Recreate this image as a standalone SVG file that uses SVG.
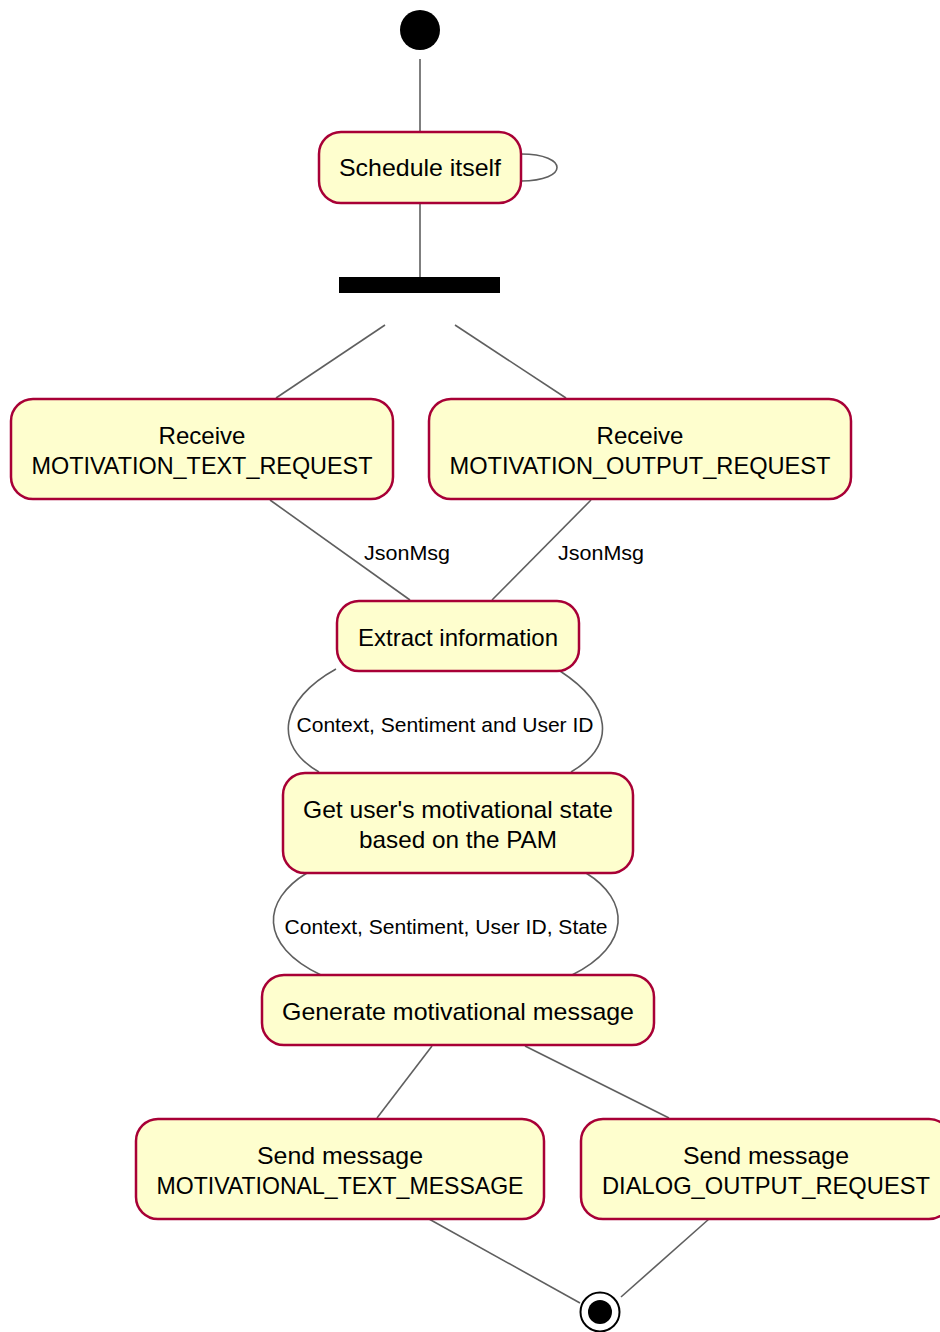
<svg xmlns="http://www.w3.org/2000/svg" width="940" height="1332" viewBox="0 0 940 1332">
  <style>
    .act { fill: #FEFECE; stroke: #A80036; stroke-width: 2.5; }
    .lbl { font-family: "Liberation Sans", Arial, sans-serif; font-size: 24px; fill: #000; text-anchor: middle; }
    .elbl { font-family: "Liberation Sans", Arial, sans-serif; font-size: 21px; fill: #000; text-anchor: middle; }
    .edge { fill: none; stroke: #5f5f5f; stroke-width: 1.6; }
  </style>
  <rect width="940" height="1332" fill="#FFFFFF"/>

  <g id="connectors">
    <line class="edge" x1="420" y1="59" x2="420" y2="132"/>
    <path class="edge" d="M521,154 C569,154 569,181 521,181"/>
    <line class="edge" x1="420" y1="203" x2="420" y2="277"/>
    <line class="edge" x1="385" y1="325" x2="276" y2="398"/>
    <line class="edge" x1="455" y1="325" x2="566" y2="398"/>
    <line class="edge" x1="270" y1="500" x2="410" y2="600"/>
    <text class="elbl" x="407" y="560" textLength="86" lengthAdjust="spacingAndGlyphs">JsonMsg</text>
    <line class="edge" x1="591" y1="500" x2="492" y2="600"/>
    <text class="elbl" x="601" y="560" textLength="86" lengthAdjust="spacingAndGlyphs">JsonMsg</text>
    <path class="edge" d="M336,669 C280,700 272,745 319,772"/>
    <path class="edge" d="M560,671 C612,705 617,745 571,772"/>
    <text class="elbl" x="445" y="732" textLength="297" lengthAdjust="spacingAndGlyphs">Context, Sentiment and User ID</text>
    <path class="edge" d="M307,873 C262,900 258,945 321,975"/>
    <path class="edge" d="M586,873 C630,900 632,945 572,975"/>
    <text class="elbl" x="446" y="934" textLength="323" lengthAdjust="spacingAndGlyphs">Context, Sentiment, User ID, State</text>
    <line class="edge" x1="432" y1="1046" x2="377" y2="1118"/>
    <line class="edge" x1="525" y1="1046" x2="669" y2="1118"/>
    <line class="edge" x1="429" y1="1219" x2="580" y2="1303"/>
    <line class="edge" x1="709" y1="1219" x2="621" y2="1297"/>
  </g>

  <g id="start">
    <circle cx="420" cy="30" r="20" fill="#000"/>
  </g>

  <g id="schedule">
    <rect class="act" x="319" y="132" width="202" height="71" rx="22"/>
    <text class="lbl" x="420" y="176" textLength="162" lengthAdjust="spacingAndGlyphs">Schedule itself</text>
  </g>

  <g id="fork">
    <rect x="339" y="277" width="161" height="16" fill="#000"/>
  </g>

  <g id="recvText">
    <rect class="act" x="11" y="399" width="382" height="100" rx="22"/>
    <text class="lbl" x="202" y="444" textLength="87" lengthAdjust="spacingAndGlyphs">Receive</text>
    <text class="lbl" x="202" y="474" textLength="341" lengthAdjust="spacingAndGlyphs">MOTIVATION_TEXT_REQUEST</text>
  </g>

  <g id="recvOutput">
    <rect class="act" x="429" y="399" width="422" height="100" rx="22"/>
    <text class="lbl" x="640" y="444" textLength="87" lengthAdjust="spacingAndGlyphs">Receive</text>
    <text class="lbl" x="640" y="474" textLength="381" lengthAdjust="spacingAndGlyphs">MOTIVATION_OUTPUT_REQUEST</text>
  </g>

  <g id="extract">
    <rect class="act" x="337" y="601" width="242" height="70" rx="22"/>
    <text class="lbl" x="458" y="646" textLength="200" lengthAdjust="spacingAndGlyphs">Extract information</text>
  </g>

  <g id="motivState">
    <rect class="act" x="283" y="773" width="350" height="100" rx="22"/>
    <text class="lbl" x="458" y="818" textLength="310" lengthAdjust="spacingAndGlyphs">Get user's motivational state</text>
    <text class="lbl" x="458" y="848" textLength="198" lengthAdjust="spacingAndGlyphs">based on the PAM</text>
  </g>

  <g id="generate">
    <rect class="act" x="262" y="975" width="392" height="70" rx="22"/>
    <text class="lbl" x="458" y="1020" textLength="352" lengthAdjust="spacingAndGlyphs">Generate motivational message</text>
  </g>

  <g id="sendText">
    <rect class="act" x="136" y="1119" width="408" height="100" rx="22"/>
    <text class="lbl" x="340" y="1164" textLength="166" lengthAdjust="spacingAndGlyphs">Send message</text>
    <text class="lbl" x="340" y="1194" textLength="367" lengthAdjust="spacingAndGlyphs">MOTIVATIONAL_TEXT_MESSAGE</text>
  </g>

  <g id="sendDialog">
    <rect class="act" x="581" y="1119" width="370" height="100" rx="22"/>
    <text class="lbl" x="766" y="1164" textLength="166" lengthAdjust="spacingAndGlyphs">Send message</text>
    <text class="lbl" x="766" y="1194" textLength="328" lengthAdjust="spacingAndGlyphs">DIALOG_OUTPUT_REQUEST</text>
  </g>

  <g id="end">
    <circle cx="600" cy="1312" r="19.5" fill="#FFFFFF" stroke="#000" stroke-width="2"/>
    <circle cx="600" cy="1312" r="12" fill="#000"/>
  </g>
</svg>
